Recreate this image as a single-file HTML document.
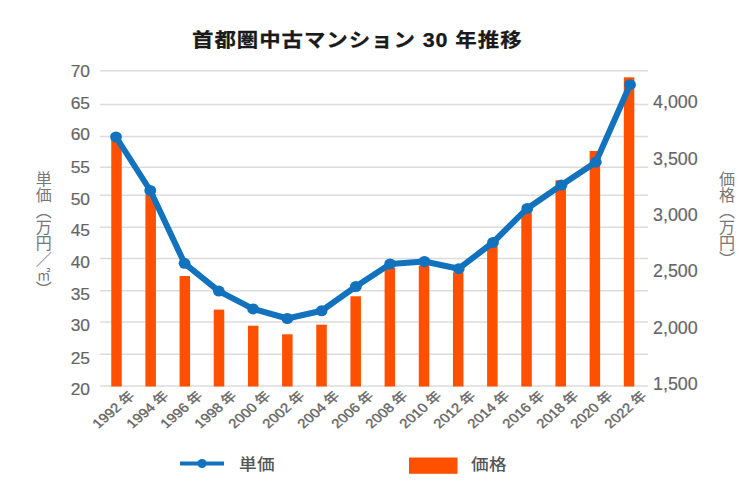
<!DOCTYPE html>
<html lang="ja"><head><meta charset="utf-8"><title>首都圏中古マンション 30 年推移</title>
<style>
html,body{margin:0;padding:0;background:#fff;}
body{width:750px;height:500px;position:relative;overflow:hidden;font-family:"Liberation Sans","Noto Sans CJK JP",sans-serif;}
.t{position:absolute;white-space:nowrap;line-height:1;}
.title{left:192px;top:31px;font-size:19.5px;font-weight:700;-webkit-text-stroke:0.25px #1a1a1a;color:#1a1a1a;font-family:"Liberation Sans","Noto Sans CJK JP",sans-serif;transform-origin:0 0;transform:scaleX(1.1);letter-spacing:0.85px;}
.yl{color:#666666;font-size:17.4px;-webkit-text-stroke:0.2px #666;text-align:right;width:40px;left:50px;}
.yr{color:#666666;font-size:17.9px;-webkit-text-stroke:0.2px #666;left:653px;}
.xl{color:#666666;font-size:13px;-webkit-text-stroke:0.35px #666;text-align:right;width:60px;transform-origin:100% 50%;transform:scaleX(1.15) rotate(-45deg);}
.vt{position:absolute;writing-mode:vertical-rl;color:#777;font-size:16px;line-height:1;font-family:"Liberation Sans","Noto Sans CJK JP",sans-serif;white-space:nowrap;}
.lg{color:#555;font-size:16px;font-weight:500;font-family:"Liberation Sans","Noto Sans CJK JP",sans-serif;transform-origin:0 0;transform:scaleX(1.1);letter-spacing:0.3px;}
</style></head><body>

<svg width="750" height="500" viewBox="0 0 750 500" style="position:absolute;left:0;top:0">
<line x1="100" x2="648" y1="70.7" y2="70.7" stroke="#dcdcdc" stroke-width="1.5"/>
<line x1="100" x2="648" y1="104.4" y2="104.4" stroke="#dcdcdc" stroke-width="1.5"/>
<line x1="100" x2="648" y1="136.6" y2="136.6" stroke="#dcdcdc" stroke-width="1.5"/>
<line x1="100" x2="648" y1="167.3" y2="167.3" stroke="#dcdcdc" stroke-width="1.5"/>
<line x1="100" x2="648" y1="195.3" y2="195.3" stroke="#dcdcdc" stroke-width="1.5"/>
<line x1="100" x2="648" y1="227.3" y2="227.3" stroke="#dcdcdc" stroke-width="1.5"/>
<line x1="100" x2="648" y1="258.4" y2="258.4" stroke="#dcdcdc" stroke-width="1.5"/>
<line x1="100" x2="648" y1="290.8" y2="290.8" stroke="#dcdcdc" stroke-width="1.5"/>
<line x1="100" x2="648" y1="322.0" y2="322.0" stroke="#dcdcdc" stroke-width="1.5"/>
<line x1="100" x2="648" y1="354.2" y2="354.2" stroke="#dcdcdc" stroke-width="1.5"/>
<line x1="100" x2="648" y1="386.0" y2="386.0" stroke="#dcdcdc" stroke-width="1.5"/>
<rect x="111.25" y="140" width="10.5" height="246.50" fill="#ff5000"/>
<rect x="145.42" y="194.5" width="10.5" height="192.00" fill="#ff5000"/>
<rect x="179.59" y="276" width="10.5" height="110.50" fill="#ff5000"/>
<rect x="213.76" y="309.6" width="10.5" height="76.90" fill="#ff5000"/>
<rect x="247.93" y="325.7" width="10.5" height="60.80" fill="#ff5000"/>
<rect x="282.10" y="334.3" width="10.5" height="52.20" fill="#ff5000"/>
<rect x="316.27" y="324.7" width="10.5" height="61.80" fill="#ff5000"/>
<rect x="350.44" y="296.3" width="10.5" height="90.20" fill="#ff5000"/>
<rect x="384.61" y="268" width="10.5" height="118.50" fill="#ff5000"/>
<rect x="418.78" y="265.6" width="10.5" height="120.90" fill="#ff5000"/>
<rect x="452.95" y="272.3" width="10.5" height="114.20" fill="#ff5000"/>
<rect x="487.12" y="246.4" width="10.5" height="140.10" fill="#ff5000"/>
<rect x="521.29" y="212" width="10.5" height="174.50" fill="#ff5000"/>
<rect x="555.46" y="180.3" width="10.5" height="206.20" fill="#ff5000"/>
<rect x="589.63" y="151" width="10.5" height="235.50" fill="#ff5000"/>
<rect x="623.80" y="77.3" width="10.5" height="309.20" fill="#ff5000"/>
<polyline points="116.00,137 150.27,190.5 184.54,263.3 218.81,291.1 253.08,308.9 287.35,318.5 321.62,310.8 355.89,286.5 390.16,263.9 424.43,261.5 458.70,268.7 492.97,242.5 527.24,208.4 561.51,185.1 595.78,162.2 630.05,84.7" fill="none" stroke="#1272bd" stroke-width="6" stroke-linejoin="round"/>
<ellipse cx="116.00" cy="137" rx="5.9" ry="5.5" fill="#1272bd"/>
<ellipse cx="150.27" cy="190.5" rx="5.9" ry="5.5" fill="#1272bd"/>
<ellipse cx="184.54" cy="263.3" rx="5.9" ry="5.5" fill="#1272bd"/>
<ellipse cx="218.81" cy="291.1" rx="5.9" ry="5.5" fill="#1272bd"/>
<ellipse cx="253.08" cy="308.9" rx="5.9" ry="5.5" fill="#1272bd"/>
<ellipse cx="287.35" cy="318.5" rx="5.9" ry="5.5" fill="#1272bd"/>
<ellipse cx="321.62" cy="310.8" rx="5.9" ry="5.5" fill="#1272bd"/>
<ellipse cx="355.89" cy="286.5" rx="5.9" ry="5.5" fill="#1272bd"/>
<ellipse cx="390.16" cy="263.9" rx="5.9" ry="5.5" fill="#1272bd"/>
<ellipse cx="424.43" cy="261.5" rx="5.9" ry="5.5" fill="#1272bd"/>
<ellipse cx="458.70" cy="268.7" rx="5.9" ry="5.5" fill="#1272bd"/>
<ellipse cx="492.97" cy="242.5" rx="5.9" ry="5.5" fill="#1272bd"/>
<ellipse cx="527.24" cy="208.4" rx="5.9" ry="5.5" fill="#1272bd"/>
<ellipse cx="561.51" cy="185.1" rx="5.9" ry="5.5" fill="#1272bd"/>
<ellipse cx="595.78" cy="162.2" rx="5.9" ry="5.5" fill="#1272bd"/>
<ellipse cx="630.05" cy="84.7" rx="5.9" ry="5.5" fill="#1272bd"/>
<line x1="180" x2="224" y1="463.5" y2="463.5" stroke="#1272bd" stroke-width="3.8"/>
<circle cx="202" cy="463.5" r="4.6" fill="#1272bd"/>
<rect x="409" y="457.5" width="48.5" height="16.3" fill="#ff5000"/>
</svg>
<div class="t title">首都圏中古マンション 30 年推移</div>
<div class="t yl" style="top:63.4px">70</div>
<div class="t yl" style="top:94.6px">65</div>
<div class="t yl" style="top:126.1px">60</div>
<div class="t yl" style="top:158.5px">55</div>
<div class="t yl" style="top:190.5px">50</div>
<div class="t yl" style="top:221.7px">45</div>
<div class="t yl" style="top:254.1px">40</div>
<div class="t yl" style="top:285.6px">35</div>
<div class="t yl" style="top:317.2px">30</div>
<div class="t yl" style="top:349.5px">25</div>
<div class="t yl" style="top:381.3px">20</div>
<div class="t yr" style="top:93.8px">4,000</div>
<div class="t yr" style="top:150.6px">3,500</div>
<div class="t yr" style="top:206.8px">3,000</div>
<div class="t yr" style="top:263.2px">2,500</div>
<div class="t yr" style="top:319.6px">2,000</div>
<div class="t yr" style="top:375.8px">1,500</div>
<div class="t xl" style="left:71.5px;top:386.5px">1992 年</div>
<div class="t xl" style="left:105.7px;top:386.5px">1994 年</div>
<div class="t xl" style="left:139.8px;top:386.5px">1996 年</div>
<div class="t xl" style="left:174.0px;top:386.5px">1998 年</div>
<div class="t xl" style="left:208.2px;top:386.5px">2000 年</div>
<div class="t xl" style="left:242.4px;top:386.5px">2002 年</div>
<div class="t xl" style="left:276.5px;top:386.5px">2004 年</div>
<div class="t xl" style="left:310.7px;top:386.5px">2006 年</div>
<div class="t xl" style="left:344.9px;top:386.5px">2008 年</div>
<div class="t xl" style="left:379.0px;top:386.5px">2010 年</div>
<div class="t xl" style="left:413.2px;top:386.5px">2012 年</div>
<div class="t xl" style="left:447.4px;top:386.5px">2014 年</div>
<div class="t xl" style="left:481.5px;top:386.5px">2016 年</div>
<div class="t xl" style="left:515.7px;top:386.5px">2018 年</div>
<div class="t xl" style="left:549.9px;top:386.5px">2020 年</div>
<div class="t xl" style="left:584.1px;top:386.5px">2022 年</div>
<div class="vt" style="left:33.7px;top:171px">単価（万円／<span style="font-size:13.5px">㎡</span>）</div>
<div class="vt" style="left:717px;top:171px">価格（万円）</div>
<div class="t lg" style="left:238.5px;top:457.3px">単価</div>
<div class="t lg" style="left:470.5px;top:457.3px">価格</div>
</body></html>
